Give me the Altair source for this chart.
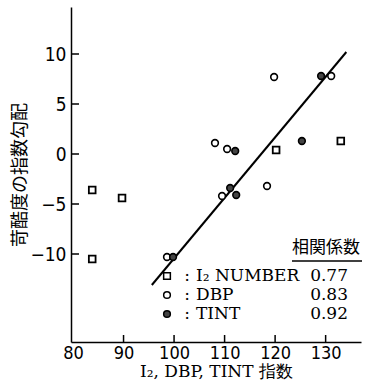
import altair as alt
import pandas as pd

# I2 NUMBER index vs. severity slope
i2_x = [83.8, 89.7, 83.8, 120.2, 133.0]
i2_y = [-3.6, -4.4, -10.5, 0.4, 1.3]
# DBP index
dbp_x = [108.1, 110.5, 119.8, 131.1, 118.4, 109.5, 98.6]
dbp_y = [1.1, 0.5, 7.7, 7.8, -3.2, -4.2, -10.3]
# TINT index
tint_x = [112.1, 129.1, 125.3, 111.1, 112.3, 99.8]
tint_y = [0.3, 7.8, 1.3, -3.4, -4.1, -10.3]

# fitted line end points
fit_x = [95.6, 134.1]
fit_y = [-13.1, 10.2]

x_ticks = [90, 100, 110, 120, 130]
y_ticks = [-10, -5, 0, 5, 10]

legend_names = ["I\u2082 NUMBER", "DBP", "TINT"]
legend_r = ["0.77", "0.83", "0.92"]

X_DOM = [79.6, 137]
Y_DOM = [-18.8, 14.7]
W, H = 290, 335

TICK_FONT = "Liberation Sans Narrow, DejaVu Sans Condensed, sans-serif"
SERIF = "DejaVu Serif, serif"
LEG_FONT = "DejaVu Serif"
CJK = "Noto Sans CJK JP"

xs = alt.Scale(domain=X_DOM, nice=False, zero=False)
ys = alt.Scale(domain=Y_DOM, nice=False, zero=False)

pts = pd.DataFrame(
    [{"x": a, "y": b, "s": "I2"} for a, b in zip(i2_x, i2_y)]
    + [{"x": a, "y": b, "s": "DBP"} for a, b in zip(dbp_x, dbp_y)]
    + [{"x": a, "y": b, "s": "TINT"} for a, b in zip(tint_x, tint_y)]
)

base_x = alt.X(
    "x:Q", scale=xs,
    axis=alt.Axis(
        values=x_ticks + [80], title="I\u2082, DBP, TINT \u6307\u6570",
        titleFont=SERIF, titleFontSize=17, titleFontWeight="normal",
        titlePadding=1, labelFont=TICK_FONT, labelFontSize=18,
        labelPadding=2, ticks=False, grid=False, domainColor="black",
        domainWidth=1.5, labelColor="black", titleColor="black",
    ),
)
base_y = alt.Y(
    "y:Q", scale=ys,
    axis=alt.Axis(
        values=y_ticks, title="\u82db\u9177\u5ea6\u306e\u6307\u6570\u52fe\u914d",
        titleFont=CJK, titleFontSize=18, titleFontWeight="normal",
        titlePadding=0, labelFont=TICK_FONT, labelFontSize=19,
        labelPadding=5, ticks=False, grid=False, domainColor="black",
        domainWidth=1.5, labelColor="black", titleColor="black",
    ),
)

fit = alt.Chart(pd.DataFrame({"x": fit_x, "y": fit_y})).mark_line(
    color="black", strokeWidth=2
).encode(x=base_x, y=base_y)

sq = alt.Chart(pts[pts.s == "I2"]).mark_point(
    shape="square", size=45, filled=True, fill="white", stroke="black",
    strokeWidth=1.8, opacity=1,
).encode(x=alt.X("x:Q", scale=xs), y=alt.Y("y:Q", scale=ys))

oc = alt.Chart(pts[pts.s == "DBP"]).mark_point(
    shape="circle", size=45, filled=True, fill="white", stroke="black",
    strokeWidth=1.6, opacity=1,
).encode(x=alt.X("x:Q", scale=xs), y=alt.Y("y:Q", scale=ys))

fc = alt.Chart(pts[pts.s == "TINT"]).mark_point(
    shape="circle", size=45, filled=True, fill="#444", stroke="black",
    strokeWidth=1.6, opacity=1,
).encode(x=alt.X("x:Q", scale=xs), y=alt.Y("y:Q", scale=ys))

# inward tick marks
ytk = alt.Chart(pd.DataFrame({"y": y_ticks})).mark_rule(
    color="black", strokeWidth=1.5
).encode(y=alt.Y("y:Q", scale=ys), x=alt.value(0), x2=alt.value(8))
xtk = alt.Chart(pd.DataFrame({"x": x_ticks})).mark_rule(
    color="black", strokeWidth=1.5
).encode(x=alt.X("x:Q", scale=xs), y=alt.value(H), y2=alt.value(H - 7))

# legend block
leg = pd.DataFrame({"name": legend_names, "r": legend_r, "row": [0, 1, 2]})
ROW_Y = [269, 288, 307]
leg["py"] = [ROW_Y[i] for i in leg.row]

leg_sym = []
for i, (shape, fill) in enumerate([("square", "white"), ("circle", "white"), ("circle", "#444")]):
    leg_sym.append(
        alt.Chart(leg[leg.row == i]).mark_point(
            shape=shape, size=45, filled=True, fill=fill, stroke="black",
            strokeWidth=1.5, opacity=1,
        ).encode(x=alt.value(96), y=alt.value(ROW_Y[i]))
    )

colon = alt.Chart(leg).mark_text(
    text=":", font=LEG_FONT, fontSize=17, align="center", baseline="middle", color="black"
).encode(x=alt.value(116), y=alt.Y("py:Q", scale=None))
names = alt.Chart(leg).mark_text(
    font=LEG_FONT, fontSize=17, align="left", baseline="middle", color="black"
).encode(x=alt.value(125), y=alt.Y("py:Q", scale=None), text="name:N")
vals = alt.Chart(leg).mark_text(
    font=LEG_FONT, fontSize=17, align="right", baseline="middle", color="black"
).encode(x=alt.value(277), y=alt.Y("py:Q", scale=None), text="r:N")

header = alt.Chart(pd.DataFrame({"t": ["\u76f8\u95a2\u4fc2\u6570"]})).mark_text(
    font=CJK, fontSize=17, align="center", baseline="middle", color="black"
).encode(x=alt.value(255), y=alt.value(241), text="t:N")
underline = alt.Chart(pd.DataFrame({"t": [0]})).mark_rule(
    color="black", strokeWidth=1.3
).encode(x=alt.value(221), x2=alt.value(291), y=alt.value(254))

chart = alt.layer(
    fit, ytk, xtk, sq, oc, fc, *leg_sym, colon, names, vals, header, underline
).properties(
    width=W, height=H,
    autosize=alt.AutoSizeParams(type="none"),
    padding={"left": 71, "top": 7, "right": 12, "bottom": 44},
    background="white",
).configure_view(stroke=None)

chart.save("out.html", embed_options={"renderer": "svg", "actions": False})
